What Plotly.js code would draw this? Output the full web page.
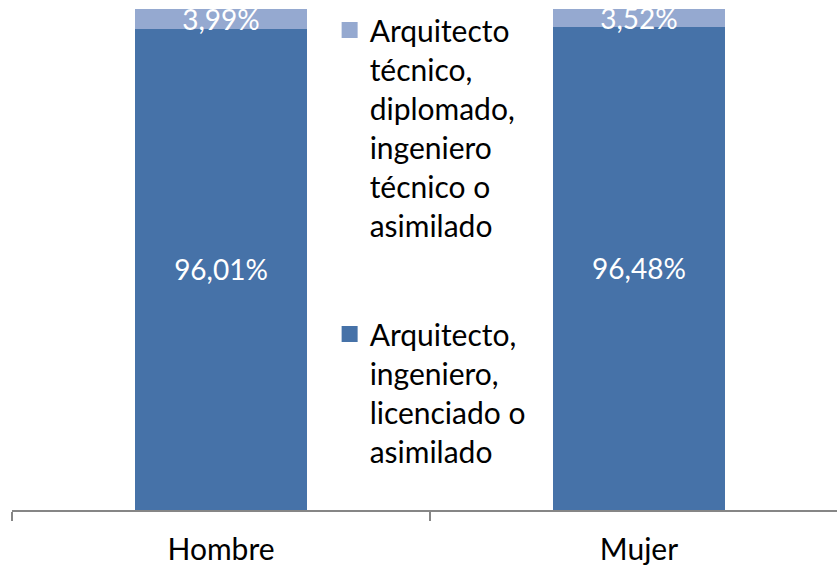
<!DOCTYPE html>
<html>
<head>
<meta charset="utf-8">
<script src="https://cdn.plot.ly/plotly-3.0.1.min.js"></script>
<style>
html,body{margin:0;padding:0;background:#fff;}
#chart{width:837px;height:566px;}
</style>
</head>
<body>
<div id="chart"></div>
<script>
const categories = ["Hombre", "Mujer"];
const seriesNames = [
  "Arquitecto,<br>ingeniero,<br>licenciado o<br>asimilado",
  "Arquitecto<br>técnico,<br>diplomado,<br>ingeniero<br>técnico o<br>asimilado"
];
const superiorValues = [96.01, 96.48];
const tecnicoValues = [3.99, 3.52];
const labelSuperior = ["96,01%", "96,48%"];
const labelTecnico = ["3,99%", "3,52%"];

const colDark = "#4672A8";
const colLight = "#95A9D0";
const FONT = "Lato, 'Liberation Sans', sans-serif";

const traces = [
  {
    type: "bar", x: categories, y: superiorValues, name: seriesNames[0],
    marker: {color: colDark}, text: labelSuperior, textposition: "inside",
    insidetextanchor: "middle", constraintext: "none",
    textfont: {color: "#ffffff", size: 28, family: FONT},
    hoverinfo: "skip", showlegend: false
  },
  {
    type: "bar", x: categories, y: tecnicoValues, name: seriesNames[1],
    marker: {color: colLight}, text: labelTecnico, textposition: "inside",
    insidetextanchor: "middle", constraintext: "none", cliponaxis: false,
    textfont: {color: "#ffffff", size: 28, family: FONT},
    hoverinfo: "skip", showlegend: false
  },
  {
    type: "scatter", mode: "markers", x: [null], y: [null], name: seriesNames[1],
    marker: {symbol: "square", size: 16, color: colLight}, legend: "legend"
  },
  {
    type: "scatter", mode: "markers", x: [null], y: [null], name: seriesNames[0],
    marker: {symbol: "square", size: 16, color: colDark}, legend: "legend2"
  }
];

const legendCommon = {
  xanchor: "left", yanchor: "top", valign: "top",
  font: {family: FONT, size: 30, color: "#000000"},
  bgcolor: "rgba(0,0,0,0)", itemclick: false, itemdoubleclick: false
};

const layout = {
  width: 837, height: 566,
  margin: {l: 12, r: 0, t: 9, b: 56},
  paper_bgcolor: "#ffffff", plot_bgcolor: "#ffffff",
  barmode: "stack", bargap: 0.59,
  font: {family: FONT, color: "#000000"},
  showlegend: true,
  legend: Object.assign({x: 0.385, y: 1.01}, legendCommon),
  legend2: Object.assign({x: 0.385, y: 0.403}, legendCommon),
  xaxis: {
    type: "category", range: [-0.5, 1.4737], fixedrange: true,
    showline: true, linecolor: "#868686", linewidth: 1.5,
    ticks: "outside", tickson: "boundaries", ticklen: 9,
    tickcolor: "#868686", tickwidth: 1.5, ticklabelstandoff: 12,
    tickfont: {family: FONT, size: 30, color: "#000000"},
    showgrid: false, zeroline: false
  },
  yaxis: {
    range: [0, 100], showticklabels: false, showgrid: false,
    zeroline: false, showline: false, ticks: "", fixedrange: true
  }
};

Plotly.newPlot("chart", traces, layout, {displayModeBar: false, staticPlot: true});
</script>
</body>
</html>
